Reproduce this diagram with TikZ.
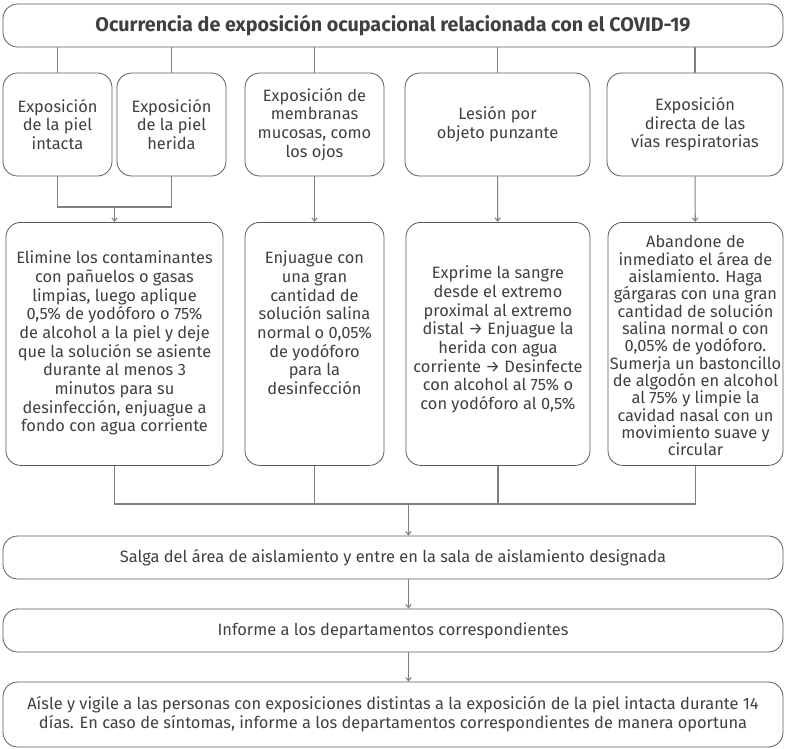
\documentclass[tikz,border=0pt]{standalone}
\usepackage{fontspec}
\setmainfont{Fira Sans}
\usetikzlibrary{arrows.meta}

\definecolor{boxgray}{HTML}{5A5A5A}
\definecolor{linegray}{HTML}{808080}
\definecolor{inkgray}{HTML}{404040}

\begin{document}
\begin{tikzpicture}[x = 0.75pt, y = -0.75pt,
	box/.style = {draw = boxgray, line width = 0.6pt, rounded corners = 11pt, text = inkgray,
		align = center, inner sep = 0pt, font = \fontsize{12.3}{14}\selectfont},
	wide/.style = {box, minimum width = 585pt, minimum height = 32.25pt},
	kind/.style = {box, minimum height = 77.25pt},
	task/.style = {box, anchor = north},
	wire/.style = {draw = linegray, line width = 0.8pt},
	> = {Straight Barb[length = 2.5pt, width = 4pt]}]

	\useasboundingbox (0, 0) rectangle (785, 749);

	% Header

	\node [wide, font = \fontsize{14.8}{16}\selectfont\bfseries] (head) at (393, 25.5)
		{Ocurrencia de exposición ocupacional relacionada con el COVID-19};

	% Kinds of exposure

	\node [kind, minimum width = 81.75pt] (intacta) at (57.5, 124.5) {Exposición\\de la piel\\intacta};
	\node [kind, minimum width = 81.75pt] (herida) at (171.5, 124.5) {Exposición\\de la piel\\herida};
	\node [kind, minimum width = 104.25pt] (mucosas) at (314.5, 124.5) {Exposición de\\membranas\\mucosas, como\\los ojos};
	\node [kind, minimum width = 138.75pt] (lesion) at (497.5, 124.5) {Lesión por\\objeto punzante};
	\node [kind, minimum width = 132pt] (vias) at (695, 124.5) {Exposición\\directa de las\\vías respiratorias};

	% What to do in each case (text height = down to the last line)

	\node [task, minimum width = 162.75pt, text height = 157pt, text depth = 25.25pt] (elimine) at (114.5, 222)
		{Elimine los contaminantes\\con pañuelos o gasas\\limpias, luego aplique\\0,5\% de yodóforo o 75\%\\de alcohol a la piel y deje\\que la solución se asiente\\durante al menos 3\\minutos para su\\desinfección, enjuague a\\fondo con agua corriente};
	\node [task, minimum width = 104.25pt, text height = 129pt, text depth = 53.25pt] (enjuague) at (314.5, 222)
		{Enjuague con\\una gran\\cantidad de\\solución salina\\normal o 0,05\%\\de yodóforo\\para la\\desinfección};
	\node [task, minimum width = 138pt, text height = 140.4pt, text depth = 41.85pt] (exprime) at (498, 222)
		{Exprime la sangre\\desde el extremo\\proximal al extremo\\distal → Enjuague la\\herida con agua\\corriente → Desinfecte\\con alcohol al 75\% o\\con yodóforo al 0,5\%};
	\node [task, minimum width = 131.25pt, text height = 175.1pt, text depth = 7.15pt,
		font = \fontsize{12.3}{13}\selectfont] (abandone) at (695.5, 222)
		{Abandone de\\inmediato el área de\\aislamiento. Haga\\gárgaras con una gran\\cantidad de solución\\salina normal o con\\0,05\% de yodóforo.\\Sumerja un bastoncillo\\de algodón en alcohol\\al 75\% y limpie la\\cavidad nasal con un\\movimiento suave y\\circular};

	% Common steps

	\node [wide] (salga) at (393, 557.5) {Salga del área de aislamiento y entre en la sala de aislamiento designada};
	\node [wide] (informe) at (393, 630.5) {Informe a los departamentos correspondientes};
	\node [wide, minimum height = 48.75pt] (aisle) at (393, 714.5)
		{Aísle y vigile a las personas con exposiciones distintas a la exposición de la piel intacta durante 14\\días. En caso de síntomas, informe a los departamentos correspondientes de manera oportuna};

	% Connectors

	\coordinate (skin) at (114.5, 207);
	\coordinate (collect) at (408.5, 504);

	\begin{scope}[wire]

		\foreach \kind in {intacta, herida, mucosas, lesion, vias}
			\draw (head.south -| \kind.north) -- (\kind.north);

		\draw (intacta.south) |- (skin) -| (herida.south);
		\draw [->] (skin) -- (elimine.north);
		\draw [->] (mucosas) -- (enjuague);
		\draw [->] (lesion) -- (exprime);
		\draw [->] (vias) -- (abandone);

		\draw (elimine.south) |- (collect) -| (abandone.south);
		\draw (enjuague.south) -- (enjuague.south |- collect);
		\draw (exprime.south) -- (exprime.south |- collect);

		\draw [->] (collect) -- (collect |- salga.north);
		\draw [->] (collect |- salga.south) -- (collect |- informe.north);
		\draw [->] (collect |- informe.south) -- (collect |- aisle.north);

	\end{scope}

\end{tikzpicture}
\end{document}
